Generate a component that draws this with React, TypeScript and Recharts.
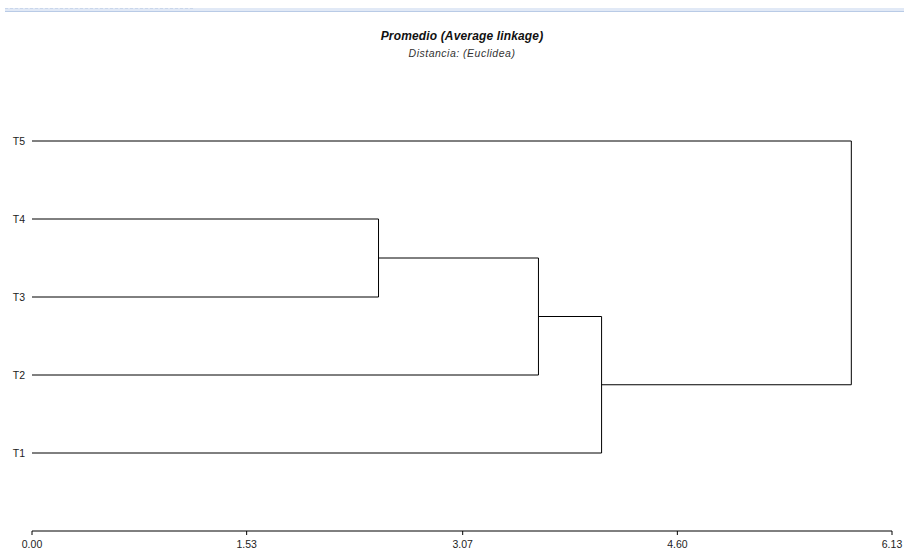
import { Line, LineChart, XAxis, YAxis } from "recharts";

// leaves, bottom to top
const leafLabels = ["T1", "T2", "T3", "T4", "T5"];
const leafPositions = [1, 2, 3, 4, 5];

// node ids: 0..4 are leaves, 5.. are clusters created by each merge in order
const mergeLeft = [3, 5, 6, 7];
const mergeRight = [2, 1, 0, 4];
const mergeHeights = [2.47, 3.61, 4.06, 5.84];

const distanceTicks = [0, 1.53, 3.07, 4.6, 6.13];

const FONT = '"Liberation Sans", Arial, Helvetica, sans-serif';

type Pt = { x: number; y: number };

function buildBranches(): Pt[][] {
  const ys: number[] = [...leafPositions];
  const hs: number[] = leafPositions.map(() => 0);
  const branches: Pt[][] = [];
  mergeHeights.forEach((h, i) => {
    const a = mergeLeft[i];
    const b = mergeRight[i];
    branches.push([
      { x: hs[a], y: ys[a] },
      { x: h, y: ys[a] },
      { x: h, y: ys[b] },
      { x: hs[b], y: ys[b] },
    ]);
    ys.push((ys[a] + ys[b]) / 2);
    hs.push(h);
  });
  return branches;
}

const branches = buildBranches();

export default function App() {
  return (
    <div style={{ position: "relative", width: 904, height: 552, background: "#fff", fontFamily: FONT }}>
      <style>{"body{margin:0}"}</style>
      {/* window strip at the top */}
      <div
        style={{
          position: "absolute",
          left: 5,
          right: 0,
          top: 8,
          height: 3,
          background: "#e1e9f6",
          borderBottom: "1px solid #b9cbe6",
        }}
      />
      <div
        style={{
          position: "absolute",
          left: 5,
          width: 188,
          top: 8,
          height: 0,
          borderTop: "1px dashed #c9d6eb",
        }}
      />
      <div
        style={{
          position: "absolute",
          left: 32,
          width: 860,
          top: 28,
          textAlign: "center",
          fontSize: 12,
          fontWeight: "bold",
          fontStyle: "italic",
          letterSpacing: 0.15,
          color: "#111",
          lineHeight: "16px",
        }}
      >
        Promedio (Average linkage)
      </div>
      <div
        style={{
          position: "absolute",
          left: 32,
          width: 860,
          top: 46,
          textAlign: "center",
          fontSize: 10.5,
          fontStyle: "italic",
          letterSpacing: 0.5,
          color: "#333",
          lineHeight: "14px",
        }}
      >
        Distancia: (Euclidea)
      </div>
      <LineChart
        width={904}
        height={552}
        margin={{ top: 63, right: 12, bottom: 0, left: 0 }}
        style={{ position: "absolute", left: 0, top: 0 }}
      >
        <XAxis
          type="number"
          dataKey="x"
          domain={[0, 6.13]}
          ticks={distanceTicks}
          interval={0}
          tickFormatter={(v: number) => v.toFixed(2)}
          height={21}
          stroke="#000"
          tickSize={4}
          tickMargin={6}
          tick={{ fontSize: 10.5, fill: "#222", fontFamily: FONT }}
          allowDataOverflow
        />
        <YAxis
          type="number"
          dataKey="y"
          domain={[0, 6]}
          ticks={leafPositions}
          interval={0}
          tickFormatter={(v: number) => leafLabels[v - 1] ?? ""}
          width={32}
          axisLine={false}
          tickLine={false}
          tickSize={6}
          tickMargin={1}
          tick={{ fontSize: 10.5, fill: "#222", fontFamily: FONT }}
        />
        {branches.map((pts, i) => (
          <Line
            key={i}
            data={pts}
            dataKey="y"
            type="linear"
            stroke="#000"
            strokeWidth={1}
            dot={false}
            activeDot={false}
            isAnimationActive={false}
          />
        ))}
      </LineChart>
    </div>
  );
}
